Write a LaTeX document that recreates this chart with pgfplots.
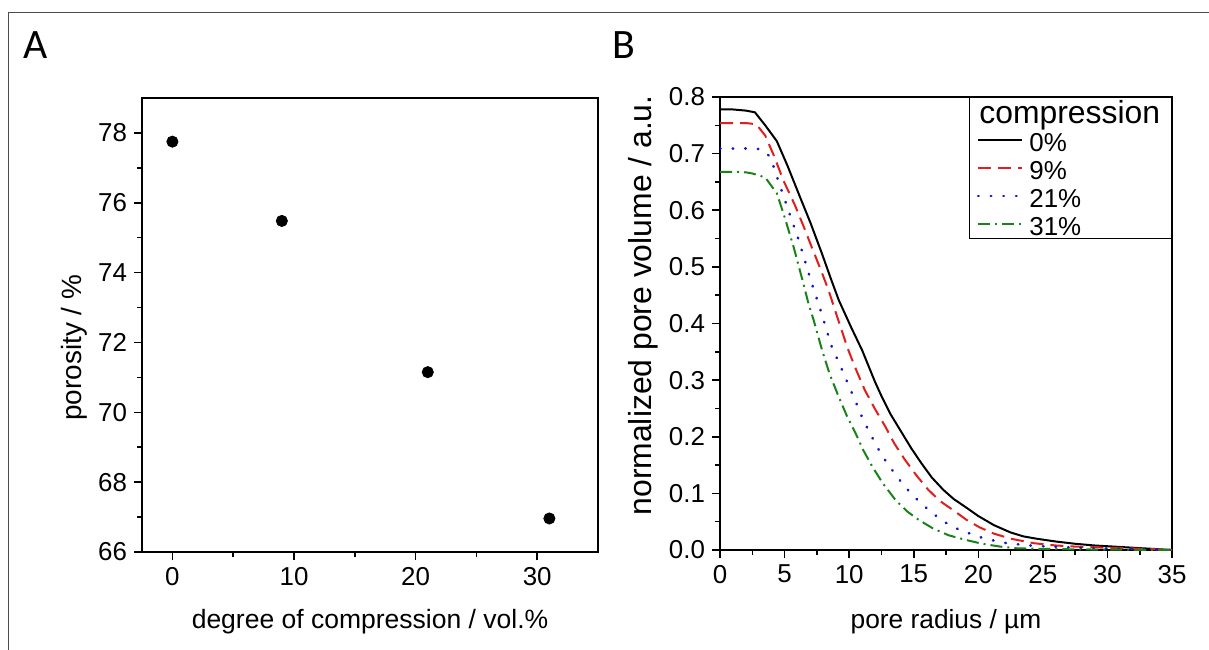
\documentclass[border=0pt]{standalone}
\usepackage{fontspec}
\setmainfont{Liberation Sans}
\newfontfamily\panelfont{Carlito}
\usepackage{pgfplots}
\pgfplotsset{compat=1.18}

\definecolor{c9}{RGB}{225,30,30}
\definecolor{c21}{RGB}{20,20,200}
\definecolor{c31}{RGB}{25,130,25}

\pgfplotsset{
  panel/.style={
    scale only axis,
    font=\fontsize{13}{15}\selectfont,
    axis line style={line width=0.8bp},
    every tick/.style={line width=0.8bp, black},
    major tick length=4bp, minor tick length=2.5bp,
    tick align=outside, tick pos=left,
    /pgf/number format/assume math mode=true,
  }
}

\begin{document}
\begin{tikzpicture}[x=1bp,y=1bp]
\useasboundingbox (0,0) rectangle (604.5,324.5);
\draw[line width=0.8bp, black!70] (4.2,-2) -- (4.2,318.3) -- (607,318.3);

\node[font=\panelfont\fontsize{21}{24}\selectfont] at (18,302) {A};
\node[font=\panelfont\fontsize{21}{24}\selectfont] at (312,302) {B};

% panel A
\begin{axis}[panel,
  at={(71bp,48.5bp)}, anchor=south west,
  width=228bp, height=227bp,
  xmin=-2.5, xmax=35, ymin=66, ymax=79,
  xtick={0,10,20,30}, minor xtick={5,15,25},
  ytick={66,68,70,72,74,76,78}, minor ytick={67,69,71,73,75,77},
  xlabel={degree of compression / vol.\%},
  ylabel={porosity / \%},
  every axis y label/.style={at={(axis description cs:-0.149,0.45)}, rotate=90, anchor=center,
    font=\fontsize{14}{16}\selectfont},
  every axis x label/.style={at={(axis description cs:0.5,-0.154)}, anchor=center,
    font=\fontsize{13.3}{16}\selectfont},
]
\addplot[only marks, mark=*, mark size=2.8bp, black] coordinates {
  (0,77.75) (9,75.48) (21,71.15) (31,66.96)
};
\end{axis}

% panel B
\begin{axis}[panel,
  at={(360bp,49.5bp)}, anchor=south west,
  width=226bp, height=226.5bp,
  xmin=0, xmax=35, ymin=0, ymax=0.8,
  xtick={0,5,10,15,20,25,30,35}, minor x tick num=1,
  ytick={0,0.1,0.2,0.3,0.4,0.5,0.6,0.7,0.8}, minor y tick num=1,
  yticklabel style={/pgf/number format/.cd, fixed, fixed zerofill, precision=1},
  xlabel={pore radius / µm},
  ylabel={normalized pore volume / a.u.},
  every axis y label/.style={at={(axis description cs:-0.170,0.54)}, rotate=90, anchor=center,
    font=\fontsize{16}{19}\selectfont},
  every axis x label/.style={at={(axis description cs:0.5,-0.159)}, anchor=center,
    font=\fontsize{13.2}{16}\selectfont},
  legend style={at={(1,1)}, anchor=north east, draw=black, line width=0.6bp,
    fill=white, inner xsep=3.5bp, inner ysep=1.2bp, row sep=2bp, column sep=3bp,
    font=\fontsize{13}{15}\selectfont,
    nodes={inner sep=0pt, text height=11.5bp, text depth=0.5bp}},
  legend cell align=left,
  legend image code/.code={\draw[#1] (0bp,0bp) -- (22bp,0bp);},
]
\addlegendimage{empty legend}
\addlegendentry{\hspace*{-25bp}\makebox[92.5bp][l]{\fontsize{16}{18}\selectfont compression}}

\addplot[black, line width=1bp] coordinates {
  (0,0.778)(1,0.778)(2,0.776)(2.7,0.773)(3.5,0.750)(4.4,0.722)(5.2,0.680)
  (6.2,0.623)(7.0,0.578)(7.9,0.523)(8.6,0.478)(9.2,0.441)(10.2,0.391)
  (11.0,0.353)(12.0,0.297)(12.5,0.272)(13.2,0.240)(14.0,0.210)(14.8,0.180)
  (15.6,0.153)(16.4,0.128)(17.3,0.106)(18.1,0.090)(19.0,0.076)(20.0,0.060)
  (21.2,0.044)(22.5,0.031)(23.5,0.024)(24.5,0.020)(26,0.015)(27.5,0.011)
  (29,0.008)(30.5,0.006)(32,0.004)(33.5,0.002)(35,0.0)
};
\addlegendentry{0\%}

\addplot[c9, line width=1bp, dash pattern=on 6.5bp off 3.5bp] coordinates {
  (0,0.754)(1,0.754)(2,0.754)(2.8,0.752)(3.5,0.732)(4.2,0.695)(4.9,0.653)
  (5.8,0.609)(6.5,0.570)(7.1,0.535)(7.8,0.495)(8.4,0.459)(9.2,0.403)
  (9.9,0.355)(10.6,0.315)(11.2,0.283)(12.0,0.249)(12.8,0.218)(13.5,0.188)
  (14.3,0.160)(15.2,0.132)(16.1,0.107)(17.0,0.087)(18.2,0.068)(19.1,0.053)
  (20.1,0.040)(21.2,0.029)(22.5,0.020)(24.3,0.012)(26,0.008)(27.5,0.006)
  (30,0.004)(33,0.002)(35,0.0)
};
\addlegendentry{9\%}

\addplot[c21, line width=1.3bp, line cap=round, dash pattern=on 0.3bp off 6bp] coordinates {
  (0,0.709)(1,0.709)(2,0.709)(3.2,0.708)(3.9,0.694)(4.5,0.653)(5.2,0.606)
  (6.1,0.547)(7.1,0.471)(7.75,0.426)(8.65,0.359)(9.3,0.326)(9.9,0.294)
  (10.5,0.262)(11.1,0.229)(11.8,0.198)(12.5,0.168)(13.4,0.139)(14.3,0.112)
  (15.4,0.086)(16.5,0.064)(17.5,0.048)(18.5,0.036)(19.1,0.031)(20.5,0.020)
  (22.2,0.012)(24,0.008)(25.6,0.006)(27.5,0.004)(29.4,0.003)(32,0.002)(35,0.0)
};
\addlegendentry{21\%}

\addplot[c31, line width=1bp, dash pattern=on 6bp off 2.5bp on 1bp off 2.5bp] coordinates {
  (0,0.668)(1,0.668)(2,0.667)(2.5,0.665)(3.5,0.658)(4.4,0.630)(5.0,0.588)
  (5.7,0.535)(6.45,0.471)(6.85,0.435)(7.25,0.406)(7.9,0.353)(8.5,0.310)
  (9.2,0.270)(9.8,0.238)(10.5,0.206)(11.1,0.176)(11.8,0.147)(12.6,0.118)
  (13.6,0.088)(14.5,0.068)(15.4,0.053)(16.5,0.038)(17.7,0.026)(19,0.018)
  (20.3,0.011)(21.7,0.006)(23,0.003)(25,0.002)(28,0.001)(35,0.0)
};
\addlegendentry{31\%}
\end{axis}
\end{tikzpicture}
\end{document}
